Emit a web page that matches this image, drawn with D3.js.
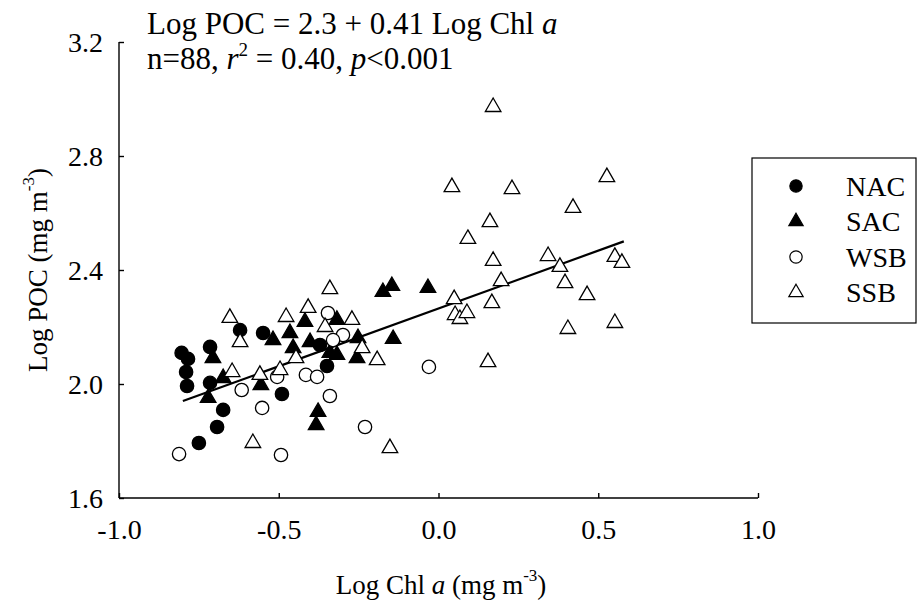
<!DOCTYPE html>
<html>
<head>
<meta charset="utf-8">
<script src="https://cdn.jsdelivr.net/npm/d3@7"></script>
<style>
  body { margin: 0; background: #fff; }
  text { font-family: "Liberation Serif", "Times New Roman", serif; fill: #000; }
</style>
</head>
<body>
<div id="chart"></div>
<script>
// data: [Log Chl a, Log POC]
var nacPoints = [
  [-0.804, 2.109], [-0.784, 2.088], [-0.790, 2.042], [-0.787, 1.993], [-0.715, 2.130],
  [-0.715, 2.004], [-0.674, 1.909], [-0.693, 1.849], [-0.750, 1.793], [-0.621, 2.189],
  [-0.549, 2.179], [-0.371, 2.137], [-0.349, 2.063], [-0.490, 1.965]
];
var sacPoints = [
  [-0.706, 2.091], [-0.674, 2.021], [-0.721, 1.951], [-0.318, 2.225], [-0.418, 2.218],
  [-0.518, 2.154], [-0.465, 2.179], [-0.252, 2.161], [-0.402, 2.147], [-0.455, 2.126],
  [-0.340, 2.109], [-0.318, 2.102], [-0.255, 2.091], [-0.556, 1.996], [-0.377, 1.902],
  [-0.383, 1.856], [-0.174, 2.323], [-0.146, 2.344], [-0.033, 2.337], [-0.142, 2.158]
];
var wsbPoints = [
  [-0.616, 1.979], [-0.812, 1.754], [-0.346, 2.249], [-0.299, 2.172], [-0.330, 2.154],
  [-0.415, 2.032], [-0.380, 2.025], [-0.505, 2.025], [-0.340, 1.958], [-0.552, 1.916],
  [-0.230, 1.849], [-0.493, 1.751], [-0.030, 2.060]
];
var ssbPoints = [
  [-0.653, 2.232], [-0.621, 2.147], [-0.646, 2.042], [-0.340, 2.333], [-0.408, 2.267],
  [-0.477, 2.235], [-0.271, 2.225], [-0.355, 2.200], [-0.239, 2.126], [-0.446, 2.091],
  [-0.496, 2.049], [-0.559, 2.032], [-0.581, 1.793], [0.049, 2.298], [0.052, 2.242],
  [0.067, 2.228], [0.089, 2.249], [-0.192, 2.084], [-0.152, 1.775], [0.171, 2.972],
  [0.042, 2.691], [0.230, 2.684], [0.527, 2.726], [0.421, 2.618], [0.161, 2.568],
  [0.092, 2.509], [0.171, 2.432], [0.343, 2.449], [0.380, 2.411], [0.196, 2.361],
  [0.396, 2.354], [0.465, 2.312], [0.167, 2.284], [0.405, 2.193], [0.155, 2.077],
  [0.552, 2.446], [0.574, 2.425], [0.552, 2.214]
];
var seriesNames = ["NAC", "SAC", "WSB", "SSB"];
var xTicks = [-1.0, -0.5, 0.0, 0.5, 1.0];
var yTicks = [1.6, 2.0, 2.4, 2.8, 3.2];
// fitted line as drawn: ends and coefficients
var fitRange = [-0.80, 0.58];
var fitIntercept = 2.265;
var fitSlope = 0.406;

var svgWidth = 917, svgHeight = 610;
var plot = { left: 119, right: 758, top: 42, bottom: 498 };

var svg = d3.select("#chart").append("svg")
  .attr("width", svgWidth)
  .attr("height", svgHeight);

var x = d3.scaleLinear().domain([-1, 1]).range([plot.left, plot.right]);
var y = d3.scaleLinear().domain([1.6, 3.2]).range([plot.bottom, plot.top]);

// plain hyphen for negatives, like the original
var fmt = d => d3.format(".1f")(d).replace("\u2212", "-");

// axes, ticks pointing inward
var xAxis = svg.append("g")
  .attr("transform", `translate(0, ${plot.bottom})`)
  .call(d3.axisTop(x).tickValues(xTicks).tickSize(5).tickFormat(fmt));
xAxis.select(".domain").attr("d", `M${plot.left},0H${plot.right}`);
xAxis.selectAll("text").attr("y", 41).attr("dy", 0);

var yAxis = svg.append("g")
  .attr("transform", `translate(${plot.left}, 0)`)
  .call(d3.axisRight(y).tickValues(yTicks).tickSize(5).tickFormat(fmt));
yAxis.select(".domain").attr("d", `M0,${plot.top}V${plot.bottom}`);
yAxis.selectAll("text").attr("x", -16).attr("text-anchor", "end").attr("dy", "0.35em");

svg.selectAll(".domain, .tick line").attr("stroke", "#000").attr("stroke-width", 1.4);
svg.selectAll(".tick text").style("font-size", "28px").style("font-family", "Liberation Serif");

// regression line
svg.append("line")
  .attr("x1", x(fitRange[0])).attr("y1", y(fitIntercept + fitSlope * fitRange[0]))
  .attr("x2", x(fitRange[1])).attr("y2", y(fitIntercept + fitSlope * fitRange[1]))
  .attr("stroke", "#000").attr("stroke-width", 2.2);

var styles = {
  NAC: { shape: d3.symbolCircle, size: 140, fill: "#000" },
  SAC: { shape: d3.symbolTriangle, size: 105, fill: "#000" },
  WSB: { shape: d3.symbolCircle, size: 140, fill: "#fff" },
  SSB: { shape: d3.symbolTriangle, size: 105, fill: "#fff" }
};
var allSeries = [nacPoints, sacPoints, wsbPoints, ssbPoints];

seriesNames.forEach(function(name, i) {
  var st = styles[name];
  svg.append("g").selectAll("path")
    .data(allSeries[i])
    .enter()
    .append("path")
    .attr("transform", d => `translate(${x(d[0])}, ${y(d[1])})`)
    .attr("d", d3.symbol().type(st.shape).size(st.size))
    .attr("fill", st.fill)
    .attr("stroke", "#000")
    .attr("stroke-width", 1.3);
});

// equation text
var eq = svg.append("text").attr("x", 147).attr("y", 34).style("font-size", "31px");
eq.append("tspan").text("Log POC = 2.3 + 0.41 Log Chl ");
eq.append("tspan").attr("font-style", "italic").text("a");

var st2 = svg.append("text").attr("x", 147).attr("y", 69).style("font-size", "31px");
st2.append("tspan").text("n=88, ");
st2.append("tspan").attr("font-style", "italic").text("r");
st2.append("tspan").attr("dy", -13).style("font-size", "19px").text("2");
st2.append("tspan").attr("dy", 13).text(" = 0.40, ");
st2.append("tspan").attr("font-style", "italic").text("p");
st2.append("tspan").text("<0.001");

// axis titles
var xt = svg.append("text").attr("x", 441).attr("y", 594).attr("text-anchor", "middle").style("font-size", "27px");
xt.append("tspan").text("Log Chl ");
xt.append("tspan").attr("font-style", "italic").text("a");
xt.append("tspan").text(" (mg m");
xt.append("tspan").attr("dy", -13).style("font-size", "17px").text("-3");
xt.append("tspan").attr("dy", 13).text(")");

var yt = svg.append("text")
  .attr("transform", "translate(47, 270) rotate(-90)")
  .attr("text-anchor", "middle").style("font-size", "27px");
yt.append("tspan").text("Log POC (mg m");
yt.append("tspan").attr("dy", -13).style("font-size", "17px").text("-3");
yt.append("tspan").attr("dy", 13).text(")");

// legend
var legend = svg.append("g").attr("transform", "translate(752, 158)");
legend.append("rect").attr("width", 164).attr("height", 165)
  .attr("fill", "none").attr("stroke", "#000").attr("stroke-width", 1.2);
seriesNames.forEach(function(name, i) {
  var st = styles[name];
  var row = legend.append("g").attr("transform", `translate(44, ${28 + i * 35.5})`);
  row.append("path")
    .attr("d", d3.symbol().type(st.shape).size(st.size * 0.85))
    .attr("fill", st.fill).attr("stroke", "#000").attr("stroke-width", 1.2);
  row.append("text").attr("x", 50).attr("dy", "0.35em").style("font-size", "28px").text(name);
});
</script>
</body>
</html>
